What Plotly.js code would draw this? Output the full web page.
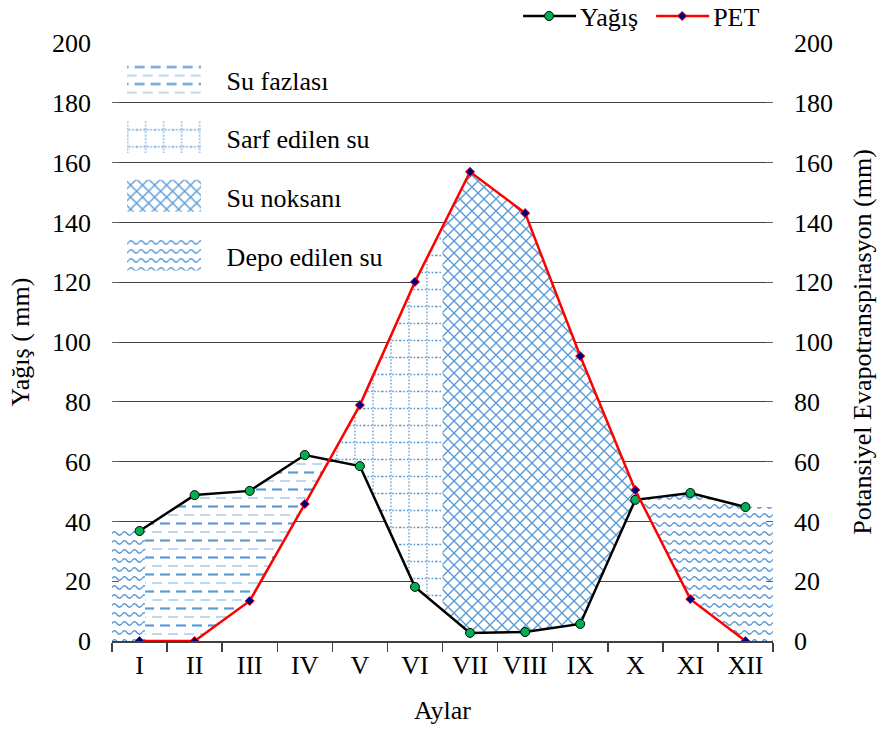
<!DOCTYPE html>
<html>
<head>
<meta charset="utf-8">
<script src="https://cdn.plot.ly/plotly-3.0.1.min.js"></script>
<style>html,body{margin:0;padding:0;background:#fff;}</style>
</head>
<body>
<div id="chart" style="width:882px;height:731px;"></div>
<script>
// ---- data ----
var months = ['I','II','III','IV','V','VI','VII','VIII','IX','X','XI','XII'];
var yagis = [36.8, 48.8, 50.2, 62.2, 58.5, 18.1, 2.7, 3.0, 5.7, 47.2, 49.5, 44.8];
var pet = [0, 0, 13.4, 45.8, 78.9, 120.1, 156.9, 143.1, 95.3, 50.5, 14.0, 0];
var regionNames = ['Su fazlası', 'Sarf edilen su', 'Su noksanı', 'Depo edilen su'];
var yTicks = [0,20,40,60,80,100,120,140,160,180,200];

// ---- helpers ----
function at(arr, x) {
  if (x <= 0) return arr[0];
  if (x >= arr.length - 1) return arr[arr.length - 1];
  var i = Math.floor(x), t = x - i;
  return arr[i] + (arr[i + 1] - arr[i]) * t;
}
function crossing(i) {
  var d0 = yagis[i] - pet[i], d1 = yagis[i + 1] - pet[i + 1];
  return i + d0 / (d0 - d1);
}
function region(x0, x1, top, bot) {
  var xs = [x0];
  for (var k = Math.ceil(x0 + 1e-9); k < x1; k++) xs.push(k);
  xs.push(x1);
  var px = [], py = [];
  xs.forEach(function (x) { px.push(x); py.push(at(top, x)); });
  xs.slice().reverse().forEach(function (x) { px.push(x); py.push(bot ? at(bot, x) : 0); });
  px.push(px[0]); py.push(py[0]);
  return {x: px, y: py};
}
var c1 = crossing(3), c2 = crossing(9);
var split = 5.5, leftEdge = -0.5, rightEdge = 11.5, fazStart = 0.1;
var blue = '#5b9bd5';
var fontFam = 'Liberation Serif, Times New Roman, serif';
var idx = months.map(function (m, i) { return i; });

function fillTrace(reg, name, uid, shape, size, showleg) {
  return {
    x: reg.x, y: reg.y, type: 'scatter', mode: 'none', fill: 'toself', uid: uid,
    fillcolor: 'rgba(255,255,255,1)',
    fillpattern: {shape: shape, fgcolor: blue, bgcolor: '#ffffff', size: size, solidity: 0.15},
    name: name, legend: 'legend2', legendgroup: name, showlegend: showleg, hoverinfo: 'skip'
  };
}
var rFaz = region(fazStart, c1, yagis, pet);
var rSarf = region(c1, split, pet, yagis);
var rNok = region(split, c2, pet, yagis);
var rDepoL = region(leftEdge, fazStart, yagis, null);
var rDepoR = region(c2, rightEdge, yagis, pet);

var traces = [
  fillTrace(rFaz, regionNames[0], 'pfaz01', '-', 9, true),
  fillTrace(rSarf, regionNames[1], 'psarf01', '+', 10, true),
  fillTrace(rNok, regionNames[2], 'pnok01', 'x', 12, true),
  fillTrace(rDepoL, regionNames[3], 'pdepoL1', '|', 11, true),
  fillTrace(rDepoR, regionNames[3], 'pdepoR1', '|', 11, false),
  {
    x: idx, y: yagis, type: 'scatter', mode: 'lines+markers', uid: 'lyag01',
    name: 'Yağış', line: {color: '#000', width: 2.5},
    marker: {symbol: 'circle', size: 9, color: '#00b050', line: {color: '#000', width: 1}},
    legend: 'legend'
  },
  {
    x: idx, y: pet, type: 'scatter', mode: 'lines+markers', yaxis: 'y2', uid: 'lpet01',
    name: 'PET', line: {color: '#ff0000', width: 2.5},
    marker: {symbol: 'diamond', size: 7, color: '#000080', line: {color: '#ff0000', width: 1}},
    legend: 'legend'
  }
];

var axFont = {family: fontFam, size: 26, color: '#000'};
var layout = {
  width: 882, height: 731,
  margin: {l: 112, r: 109, t: 43, b: 90, autoexpand: false},
  paper_bgcolor: '#fff', plot_bgcolor: '#fff',
  font: {family: fontFam, size: 26, color: '#000'},
  showlegend: true,
  xaxis: {
    range: [leftEdge, rightEdge], tickmode: 'array',
    tickvals: idx, ticktext: months,
    ticks: '', showgrid: false, zeroline: false,
    showline: true, linecolor: '#404040', linewidth: 1.5,
    minor: {tickmode: 'array', tickvals: [-0.5,0.5,1.5,2.5,3.5,4.5,5.5,6.5,7.5,8.5,9.5,10.5,11.5], ticks: 'outside', ticklen: 9, tickcolor: '#404040', tickwidth: 1.5, showgrid: false},
    tickfont: axFont, ticklabelstandoff: 0,
    title: {text: 'Aylar', font: axFont, standoff: 22}
  },
  yaxis: {
    range: [0, 200], tickmode: 'array', tickvals: yTicks,
    showgrid: true, gridcolor: '#404040', gridwidth: 1, zeroline: false,
    showline: false, ticks: 'inside', ticklen: 7, tickcolor: '#606060',
    tickfont: axFont, ticklabelstandoff: 20,
    title: {text: 'Yağış ( mm)', font: axFont, standoff: 14}
  },
  yaxis2: {
    range: [0, 200], tickmode: 'array', tickvals: yTicks, overlaying: 'y', side: 'right',
    showgrid: false, zeroline: false, showline: false, ticks: 'inside', ticklen: 7, tickcolor: '#606060',
    tickfont: axFont, ticklabelstandoff: 20,
    title: {text: 'Potansiyel Evapotranspirasyon (mm)', font: axFont, standoff: 20}
  },
  legend: {
    orientation: 'h', x: 0.988, xanchor: 'right', y: 1.045, yanchor: 'middle',
    font: {family: fontFam, size: 26, color: '#000'}, bgcolor: 'rgba(0,0,0,0)', itemwidth: 60
  },
  legend2: {
    orientation: 'v', x: 0.01, xanchor: 'left', y: 0.978, yanchor: 'top',
    font: {family: fontFam, size: 26, color: '#000'}, bgcolor: 'rgba(0,0,0,0)',
    itemwidth: 98, tracegroupgap: 22
  }
};

// custom hatch patterns (styling only)
var SVGNS = 'http://www.w3.org/2000/svg';
var patternDefs = {
  faz: {w: 16, h: 17, body:
    '<rect width="16" height="17" fill="#fff"/>' +
    '<path d="M0,4.5h10" stroke="' + blue + '" stroke-width="2.2"/>' +
    '<path d="M8,13h8M0,13h2" stroke="' + blue + '" stroke-width="1.2" opacity="0.8"/>'},
  sarf: {w: 18, h: 17, body:
    '<rect width="18" height="17" fill="#fff"/>' +
    '<path d="M9,0v17" stroke="' + blue + '" stroke-width="1.3" stroke-dasharray="1.6,1.8"/>' +
    '<path d="M0,8.5h18" stroke="' + blue + '" stroke-width="1.3" stroke-dasharray="1.6,1.8"/>'},
  nok: {w: 12, h: 12, body:
    '<rect width="12" height="12" fill="#fff"/>' +
    '<path d="M0,0L12,12M12,0L0,12" stroke="' + blue + '" stroke-width="1.4"/>'},
  depo: {w: 10, h: 9, body:
    '<rect width="10" height="9" fill="#fff"/>' +
    '<path d="M0,4.5Q2.5,1 5,4.5T10,4.5" fill="none" stroke="' + blue + '" stroke-width="1.4"/>'}
};
var uidToPat = {pfaz01: 'faz', psarf01: 'sarf', pnok01: 'nok', pdepoL1: 'depo', pdepoR1: 'depo'};
var nameToPat = {};
nameToPat[regionNames[0]] = 'faz'; nameToPat[regionNames[1]] = 'sarf';
nameToPat[regionNames[2]] = 'nok'; nameToPat[regionNames[3]] = 'depo';

function toLocal(el, sx, sy) {
  var m = el.getScreenCTM();
  return [(sx - m.e) / m.a, (sy - m.f) / m.d];
}

function customize() {
  var gd = document.getElementById('chart');
  var svg = gd.querySelector('svg.main-svg');
  var defs = svg.querySelector('defs') || svg.insertBefore(document.createElementNS(SVGNS, 'defs'), svg.firstChild);
  Object.keys(patternDefs).forEach(function (k) {
    if (document.getElementById('custom-' + k)) return;
    var p = document.createElementNS(SVGNS, 'pattern');
    p.setAttribute('id', 'custom-' + k);
    p.setAttribute('patternUnits', 'userSpaceOnUse');
    p.setAttribute('width', patternDefs[k].w);
    p.setAttribute('height', patternDefs[k].h);
    p.innerHTML = patternDefs[k].body;
    defs.appendChild(p);
  });
  Object.keys(uidToPat).forEach(function (uid) {
    gd.querySelectorAll('.trace' + uid + ' .js-fill').forEach(function (el) {
      el.style.fill = 'url(#custom-' + uidToPat[uid] + ')';
      el.style.fillOpacity = 1;
    });
  });
  gd.querySelectorAll('g.traces').forEach(function (item) {
    try {
      var txt = item.querySelector('text');
      if (!txt) return;
      var name = (txt.getAttribute('data-unformatted') || txt.textContent || '').trim();
      var key = nameToPat[name];
      var tb = txt.getBoundingClientRect();
      if (key) {
        item.querySelectorAll('path.js-fill').forEach(function (fill) {
          var cy = tb.top + tb.height / 2 - 3;
          var p0 = toLocal(fill, 127, cy - 16);
          fill.setAttribute('d', 'M' + p0[0].toFixed(1) + ',' + p0[1].toFixed(1) + 'h74v32h-74z');
          fill.style.fill = 'url(#custom-' + key + ')';
          fill.style.fillOpacity = 1;
          fill.style.stroke = 'none';
        });
      } else {
        var line = item.querySelector('path.js-line');
        var pts = item.querySelector('path.scatterpts');
        if (!line) return;
        var p1 = toLocal(line, tb.left - 57, 0);
        line.setAttribute('d', 'M' + p1[0].toFixed(1) + ',0h53');
        if (pts) {
          var pm = toLocal(pts.parentNode, tb.left - 31, 0);
          pts.setAttribute('transform', 'translate(' + pm[0].toFixed(1) + ',0)');
        }
      }
    } catch (e) {}
  });
}

Plotly.newPlot('chart', traces, layout, {displayModeBar: false, staticPlot: true}).then(function () {
  customize();
});
</script>
</body>
</html>
